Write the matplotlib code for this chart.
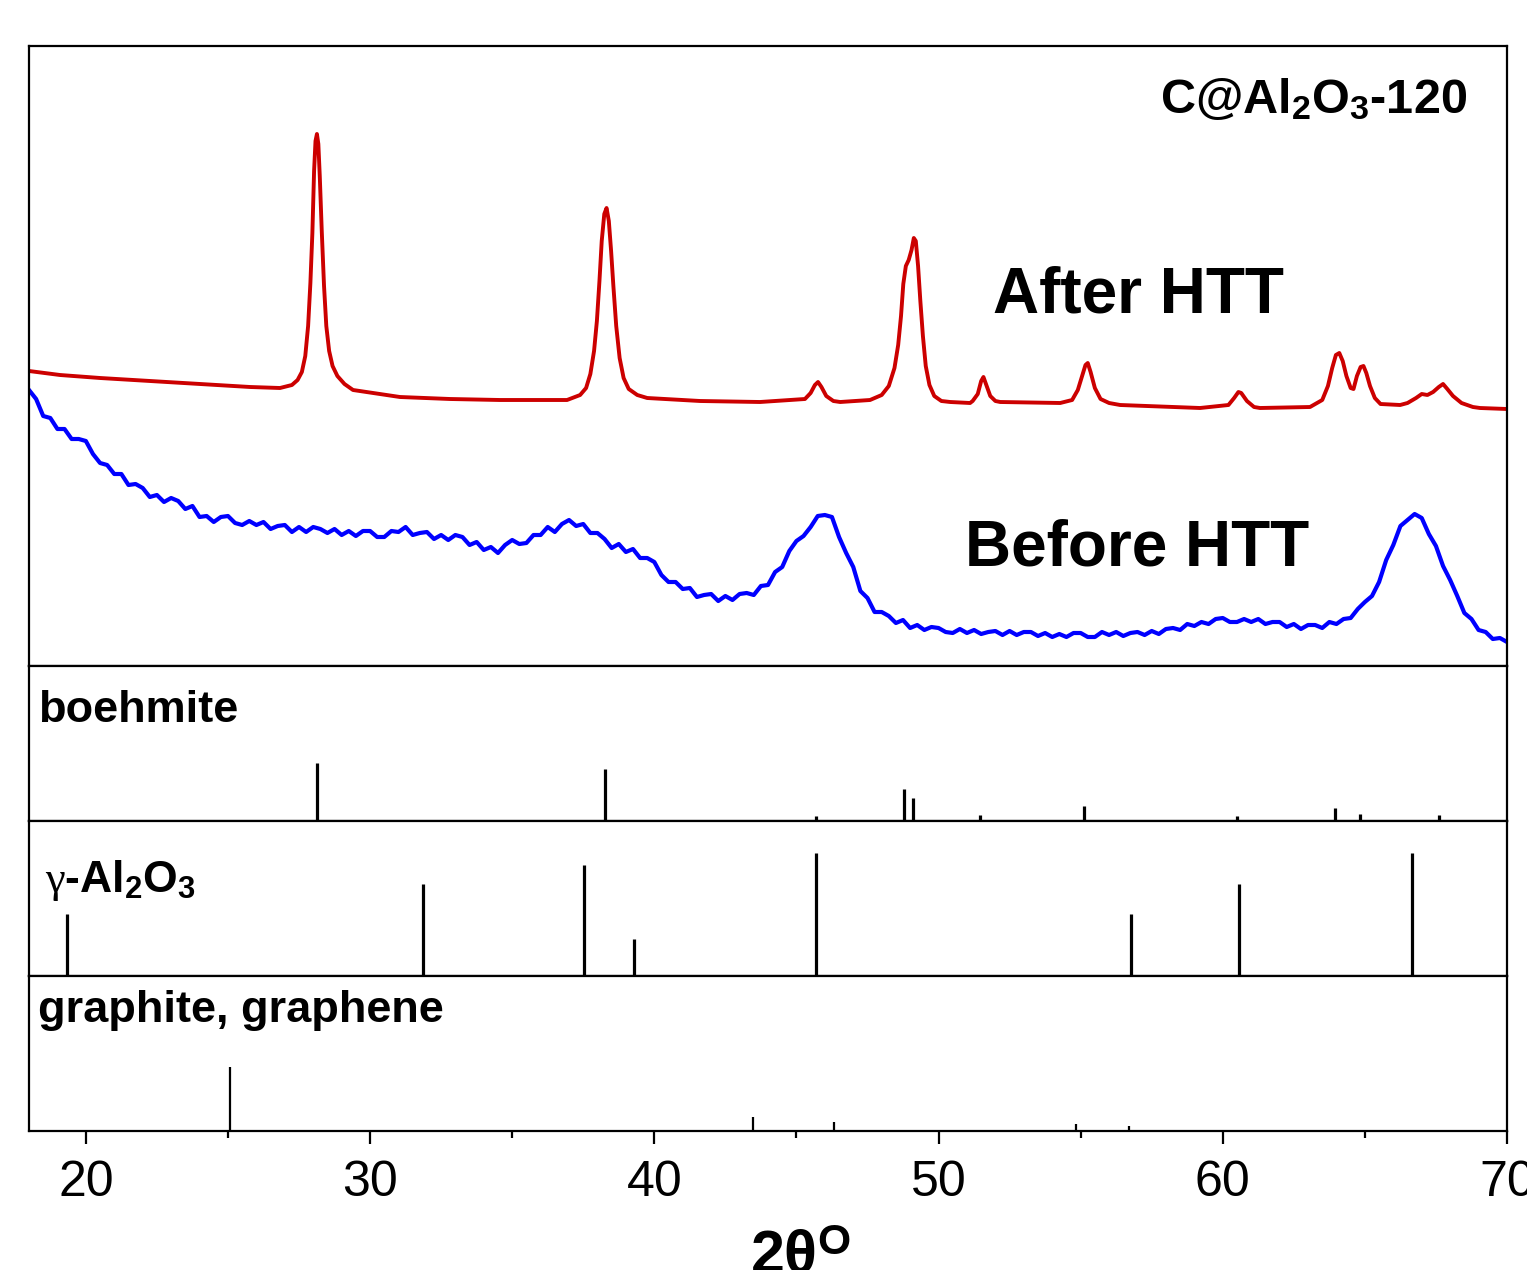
import numpy as np
import matplotlib
matplotlib.use('Agg')
import matplotlib.pyplot as plt

plt.rcParams['font.family'] = ['Liberation Sans', 'DejaVu Sans']
plt.rcParams['mathtext.fontset'] = 'custom'
plt.rcParams['mathtext.rm'] = 'Liberation Sans:bold'
plt.rcParams['mathtext.it'] = 'Liberation Serif'
plt.rcParams['mathtext.bf'] = 'Liberation Sans:bold'

# --- measured pattern, after hydrothermal treatment (2theta, intensity a.u.)
after_2theta = [18.00, 19.09, 20.50, 22.26, 24.02, 25.78, 26.83, 27.25, 27.45, 27.60,
                27.72, 27.82, 27.90, 27.97, 28.03, 28.08, 28.13, 28.18, 28.23, 28.30,
                28.38, 28.46, 28.56, 28.68, 28.85, 29.10, 29.40, 31.05, 32.81, 34.57,
                36.93, 37.39, 37.60, 37.75, 37.88, 37.98, 38.07, 38.15, 38.24, 38.32,
                38.40, 38.48, 38.56, 38.66, 38.78, 38.92, 39.10, 39.40, 39.75, 41.61,
                43.72, 45.30, 45.50, 45.65, 45.76, 45.88, 46.05, 46.30, 46.54, 47.59,
                48.00, 48.25, 48.45, 48.58, 48.68, 48.76, 48.85, 48.95, 49.05, 49.13,
                49.20, 49.28, 49.36, 49.45, 49.55, 49.68, 49.85, 50.10, 50.41, 51.11,
                51.20, 51.38, 51.50, 51.58, 51.68, 51.82, 52.00, 52.17, 54.28, 54.70,
                54.90, 55.05, 55.17, 55.25, 55.35, 55.50, 55.70, 56.00, 56.39, 59.20,
                60.20, 60.40, 60.55, 60.65, 60.85, 61.10, 61.31, 63.07, 63.50, 63.70,
                63.85, 63.98, 64.10, 64.22, 64.35, 64.50, 64.60, 64.72, 64.85, 64.95,
                65.05, 65.18, 65.35, 65.55, 66.24, 66.50, 66.80, 67.00, 67.20, 67.40,
                67.60, 67.75, 67.90, 68.10, 68.40, 68.80, 69.05, 70.00]
after_int = [295, 291, 288, 285, 282, 279, 278, 281, 286, 294,
             310, 340, 383, 433, 495, 525, 532, 522, 490, 435,
             380, 340, 315, 300, 290, 282, 276, 269, 267, 266,
             266, 271, 278, 292, 315, 345, 385, 425, 452, 458,
             445, 415, 380, 340, 308, 288, 277, 271, 268, 265,
             264, 267, 273, 281, 284, 279, 270, 265, 264, 266,
             271, 280, 298, 321, 350, 382, 400, 406, 416, 428,
             425, 400, 365, 330, 300, 281, 270, 265, 264, 263,
             265, 272, 285, 289, 281, 270, 265, 264, 263, 266,
             276, 290, 301, 303, 294, 278, 267, 263, 261, 258,
             261, 268, 274, 273, 265, 259, 258, 259, 266, 280,
             298, 311, 313, 305, 290, 278, 277, 290, 299, 300,
             293, 280, 268, 262, 261, 263, 268, 272, 271, 274,
             279, 282, 277, 270, 263, 259, 258, 257]

# --- measured pattern, before hydrothermal treatment
before_2theta = [18.00, 18.25, 18.50, 18.75, 19.00, 19.25, 19.50, 19.75, 20.00, 20.25,
                 20.50, 20.75, 21.00, 21.25, 21.50, 21.75, 22.00, 22.25, 22.50, 22.75,
                 23.00, 23.25, 23.50, 23.75, 24.00, 24.25, 24.50, 24.75, 25.00, 25.25,
                 25.50, 25.75, 26.00, 26.25, 26.50, 26.75, 27.00, 27.25, 27.50, 27.75,
                 28.00, 28.25, 28.50, 28.75, 29.00, 29.25, 29.50, 29.75, 30.00, 30.25,
                 30.50, 30.75, 31.00, 31.25, 31.50, 31.75, 32.00, 32.25, 32.50, 32.75,
                 33.00, 33.25, 33.50, 33.75, 34.00, 34.25, 34.50, 34.75, 35.00, 35.25,
                 35.50, 35.75, 36.00, 36.25, 36.50, 36.75, 37.00, 37.25, 37.50, 37.75,
                 38.00, 38.25, 38.50, 38.75, 39.00, 39.25, 39.50, 39.75, 40.00, 40.25,
                 40.50, 40.75, 41.00, 41.25, 41.50, 41.75, 42.00, 42.25, 42.50, 42.75,
                 43.00, 43.25, 43.50, 43.75, 44.00, 44.25, 44.50, 44.75, 45.00, 45.25,
                 45.50, 45.75, 46.00, 46.25, 46.50, 46.75, 47.00, 47.25, 47.50, 47.75,
                 48.00, 48.25, 48.50, 48.75, 49.00, 49.25, 49.50, 49.75, 50.00, 50.25,
                 50.50, 50.75, 51.00, 51.25, 51.50, 51.75, 52.00, 52.25, 52.50, 52.75,
                 53.00, 53.25, 53.50, 53.75, 54.00, 54.25, 54.50, 54.75, 55.00, 55.25,
                 55.50, 55.75, 56.00, 56.25, 56.50, 56.75, 57.00, 57.25, 57.50, 57.75,
                 58.00, 58.25, 58.50, 58.75, 59.00, 59.25, 59.50, 59.75, 60.00, 60.25,
                 60.50, 60.75, 61.00, 61.25, 61.50, 61.75, 62.00, 62.25, 62.50, 62.75,
                 63.00, 63.25, 63.50, 63.75, 64.00, 64.25, 64.50, 64.75, 65.00, 65.25,
                 65.50, 65.75, 66.00, 66.25, 66.50, 66.75, 67.00, 67.25, 67.50, 67.75,
                 68.00, 68.25, 68.50, 68.75, 69.00, 69.25, 69.50, 69.75, 70.00]
before_int = [276, 267, 250, 248, 237, 237, 227, 227, 225, 212,
              203, 201, 192, 192, 181, 182, 178, 169, 171, 164,
              168, 165, 157, 160, 149, 150, 144, 149, 150, 143,
              141, 145, 141, 144, 137, 140, 141, 134, 139, 134,
              139, 137, 133, 137, 131, 135, 130, 135, 135, 129,
              129, 135, 134, 139, 131, 133, 134, 127, 131, 126,
              131, 129, 121, 124, 116, 119, 113, 121, 126, 122,
              123, 131, 131, 139, 134, 142, 146, 140, 142, 133,
              133, 127, 118, 122, 114, 117, 108, 108, 104, 91,
              84, 84, 77, 78, 69, 71, 72, 65, 70, 66,
              72, 73, 71, 80, 81, 94, 99, 115, 125, 130,
              139, 150, 151, 149, 129, 113, 99, 75, 68, 54,
              54, 50, 43, 46, 38, 41, 36, 39, 38, 34,
              33, 37, 33, 36, 32, 34, 35, 31, 35, 31,
              34, 34, 30, 33, 29, 32, 29, 33, 33, 29,
              29, 34, 31, 34, 30, 33, 34, 31, 35, 32,
              37, 38, 36, 42, 40, 44, 42, 47, 48, 44,
              44, 47, 44, 47, 42, 44, 44, 39, 42, 37,
              41, 41, 38, 44, 42, 47, 48, 57, 64, 70,
              84, 106, 121, 140, 146, 152, 148, 132, 120, 100,
              86, 70, 53, 47, 36, 34, 27, 28, 24]

# --- reference patterns (2theta, relative intensity)
boehmite_2theta = [28.12, 29.20, 38.27, 40.30, 45.68, 48.80, 49.10, 51.07, 51.46,
                   55.12, 60.50, 63.94, 64.83, 66.80, 67.60]
boehmite_int = [100, 1.7, 90, 1.7, 9, 56, 40, 2, 10, 26, 9, 23, 13, 2, 11]

gamma_2theta = [19.35, 31.86, 37.54, 39.29, 45.68, 56.78, 60.58, 66.66]
gamma_int = [50, 75, 90, 30, 100, 50, 75, 100]

graphite_2theta = [25.07, 43.46, 46.33, 54.84, 56.70, 63.70]
graphite_int = [100, 22, 14, 11, 8, 2]

W, H = 1527, 1270
fig = plt.figure(figsize=(W / 100, H / 100), dpi=100)


def box(top, bottom):
    return [29 / W, 1 - bottom / H, (1507 - 29) / W, (bottom - top) / H]


ax0 = fig.add_axes(box(46, 666))
ax1 = fig.add_axes(box(666, 821), sharex=ax0)
ax2 = fig.add_axes(box(821, 976), sharex=ax0)
ax3 = fig.add_axes(box(976, 1131), sharex=ax0)

ax0.plot(after_2theta, after_int, color='#cc0000', lw=2.8, solid_joinstyle='round')
ax0.plot(before_2theta, before_int, color='#0000ff', lw=3.0, solid_joinstyle='round')
ax0.set_ylim(0, 620)

ax1.vlines(boehmite_2theta, 0, boehmite_int, color='k', lw=2.3)
ax1.set_ylim(0, 269)
ax2.vlines(gamma_2theta, 0, gamma_int, color='k', lw=2.3)
ax2.set_ylim(0, 126)
ax3.vlines(graphite_2theta, 0, graphite_int, color='k', lw=1.6)
ax3.set_ylim(0, 242)

ax0.set_xlim(18, 70)
for ax in (ax0, ax1, ax2, ax3):
    for s in ax.spines.values():
        s.set_linewidth(1.6)
    ax.set_yticks([])
    ax.tick_params(axis='x', which='both', bottom=False, labelbottom=False)

ax3.set_xticks([20, 30, 40, 50, 60, 70])
ax3.set_xticks([25, 35, 45, 55, 65], minor=True)
ax3.tick_params(axis='x', which='major', bottom=True, labelbottom=True,
                direction='out', length=9, width=1.6, labelsize=36, pad=12)
ax3.tick_params(axis='x', which='minor', bottom=True, direction='out',
                length=5, width=1.6)


def put(x, y, s, **kw):
    fig.text(x / W, 1 - y / H, s, **kw)


put(1467, 113, r'C@Al$_2$O$_3$-120', fontsize=35, fontweight='bold', ha='right', va='baseline')
put(993, 312, 'After HTT', fontsize=46, fontweight='bold', va='baseline')
put(965, 565, 'Before HTT', fontsize=46, fontweight='bold', va='baseline')
put(38, 722, 'boehmite', fontsize=32.5, fontweight='bold', va='baseline')
put(45, 892, r'$\gamma$-Al$_2$O$_3$', fontsize=32, fontweight='bold', va='baseline')
put(38, 1022, 'graphite, graphene', fontsize=32.5, fontweight='bold', va='baseline')
put(800, 1230, r'2θ$^{\mathrm{O}}$', fontsize=44, fontweight='bold', ha='center', va='top')

fig.savefig('out.png', dpi=100)
